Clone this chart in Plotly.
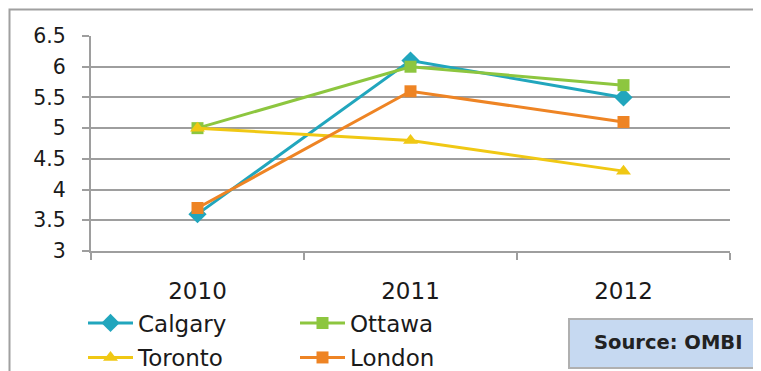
import plotly.graph_objects as go

years = ["2010", "2011", "2012"]
calgary = [3.6, 6.1, 5.5]
ottawa = [5.0, 6.0, 5.7]
toronto = [5.0, 4.8, 4.3]
london = [3.7, 5.6, 5.1]
y_ticks = [3, 3.5, 4, 4.5, 5, 5.5, 6, 6.5]
y_tick_labels = ["3", "3.5", "4", "4.5", "5", "5.5", "6", "6.5"]

# page body has an 8px margin; work in reference pixels and shift
OFF = 8
WIDTH, HEIGHT = 761 - OFF, 371 - OFF
L, R, T, B = 91, 730, 36, 251   # plot area in reference pixels
PW, PH = R - L, B - T


def px2x(px):
    return (px - L) / PW


def px2y(py):
    return (B - py) / PH


FONT = "DejaVu Sans"
GRID = "#9e9e9e"

series = [
    ("Calgary", calgary, "#21a6bd", "diamond", 14, "legend"),
    ("Ottawa", ottawa, "#8dc63f", "square", 12, "legend"),
    ("Toronto", toronto, "#f0c814", "triangle-up", 13, "legend2"),
    ("London", london, "#ee8424", "square", 12, "legend2"),
]

fig = go.Figure()
for name, vals, color, sym, size, lg in series:
    fig.add_trace(go.Scatter(
        x=years, y=vals, name=name, mode="lines+markers",
        line=dict(color=color, width=3),
        marker=dict(symbol=sym, size=size, color=color, line=dict(width=0)),
        legend=lg,
    ))

legend_common = dict(
    orientation="h", xanchor="left", yanchor="top",
    entrywidth=152, entrywidthmode="pixels",
    font=dict(family=FONT, size=23, color="#1a1a1a"),
    bgcolor="rgba(0,0,0,0)", borderwidth=0, itemwidth=45,
)

fig.update_layout(
    width=WIDTH, height=HEIGHT,
    margin=dict(l=L - OFF, r=WIDTH - (R - OFF), t=T - OFF, b=HEIGHT - (B - OFF),
                autoexpand=False),
    paper_bgcolor="white", plot_bgcolor="white",
    showlegend=True,
    legend=dict(legend_common, x=px2x(83), y=px2y(301.5)),
    legend2=dict(legend_common, x=px2x(83), y=px2y(336)),
    xaxis=dict(
        type="category", range=[-0.5, 2.5],
        showgrid=False, showline=True, linecolor=GRID, linewidth=2,
        ticks="outside", tickson="boundaries", ticklen=7, tickwidth=2, tickcolor=GRID,
        tickfont=dict(family=FONT, size=23, color="#1a1a1a"),
        ticklabelstandoff=18,
    ),
    yaxis=dict(
        range=[3, 6.5], tickvals=y_ticks, ticktext=y_tick_labels,
        showgrid=True, gridcolor=GRID, gridwidth=2,
        showline=True, linecolor=GRID, linewidth=2, zeroline=False,
        ticks="outside", ticklen=7, tickwidth=2, tickcolor=GRID,
        tickfont=dict(family=FONT, size=20.5, color="#1a1a1a"),
        ticklabelstandoff=12,
    ),
    shapes=[
        dict(type="rect", xref="paper", yref="paper",
             x0=px2x(9.5), x1=px2x(800), y0=px2y(420), y1=px2y(9.5),
             line=dict(color="#a0a0a0", width=2), fillcolor="rgba(0,0,0,0)", layer="below"),
        dict(type="rect", xref="paper", yref="paper",
             x0=px2x(569), x1=px2x(800), y0=px2y(368), y1=px2y(319),
             line=dict(color="#b0b0b0", width=2), fillcolor="#c6d9f1", layer="above"),
    ],
    annotations=[
        dict(text="<b>Source: OMBI</b>", xref="paper", yref="paper",
             x=px2x(668), y=px2y(342), xanchor="center", yanchor="middle",
             showarrow=False, font=dict(family=FONT, size=19.5, color="#222222")),
    ],
)

fig.write_html("out.html")
